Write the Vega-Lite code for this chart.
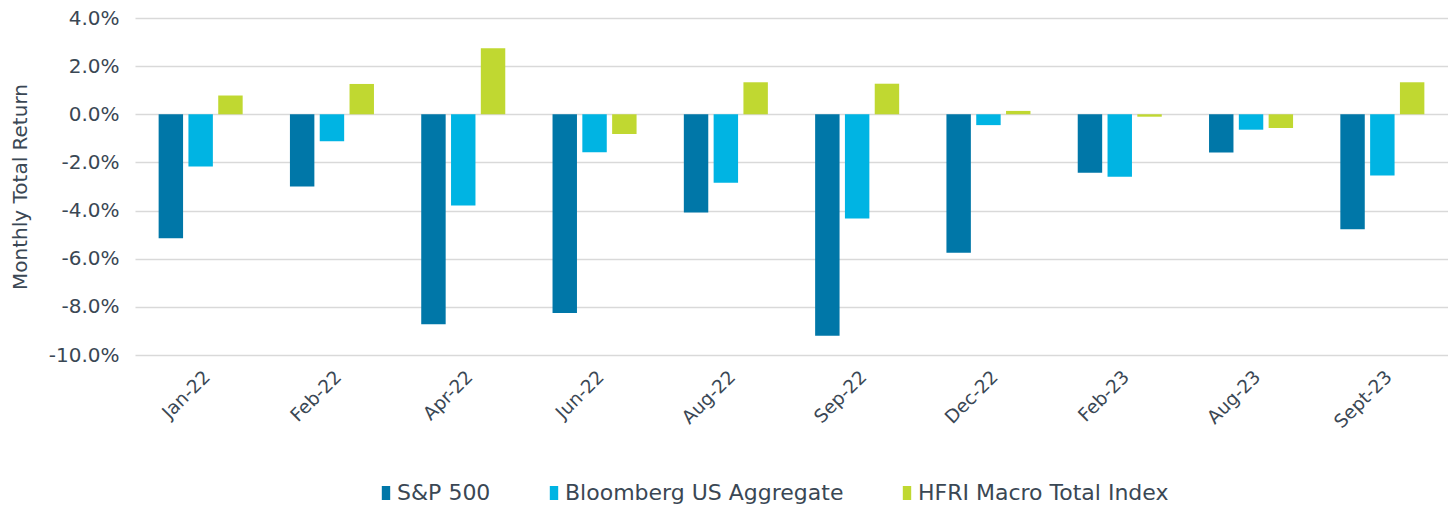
{
  "$schema": "https://vega.github.io/schema/vega-lite/v6.json",
  "autosize": "none",
  "padding": {"left": 135, "top": 18, "right": 0, "bottom": 153},
  "width": 1313,
  "height": 337,
  "background": "white",
  "config": {
    "font": "DejaVu Sans",
    "view": {"stroke": null},
    "axis": {"labelColor": "#3a4754", "titleColor": "#3a4754"}
  },
  "data": {
    "values": [
      {"month": "Jan-22", "series": "S&P 500", "value": -5.15},
      {"month": "Jan-22", "series": "Bloomberg US Aggregate", "value": -2.17},
      {"month": "Jan-22", "series": "HFRI Macro Total Index", "value": 0.78},
      {"month": "Feb-22", "series": "S&P 500", "value": -3.0},
      {"month": "Feb-22", "series": "Bloomberg US Aggregate", "value": -1.12},
      {"month": "Feb-22", "series": "HFRI Macro Total Index", "value": 1.26},
      {"month": "Apr-22", "series": "S&P 500", "value": -8.72},
      {"month": "Apr-22", "series": "Bloomberg US Aggregate", "value": -3.79},
      {"month": "Apr-22", "series": "HFRI Macro Total Index", "value": 2.74},
      {"month": "Jun-22", "series": "S&P 500", "value": -8.25},
      {"month": "Jun-22", "series": "Bloomberg US Aggregate", "value": -1.58},
      {"month": "Jun-22", "series": "HFRI Macro Total Index", "value": -0.82},
      {"month": "Aug-22", "series": "S&P 500", "value": -4.08},
      {"month": "Aug-22", "series": "Bloomberg US Aggregate", "value": -2.84},
      {"month": "Aug-22", "series": "HFRI Macro Total Index", "value": 1.33},
      {"month": "Sep-22", "series": "S&P 500", "value": -9.2},
      {"month": "Sep-22", "series": "Bloomberg US Aggregate", "value": -4.33},
      {"month": "Sep-22", "series": "HFRI Macro Total Index", "value": 1.27},
      {"month": "Dec-22", "series": "S&P 500", "value": -5.75},
      {"month": "Dec-22", "series": "Bloomberg US Aggregate", "value": -0.45},
      {"month": "Dec-22", "series": "HFRI Macro Total Index", "value": 0.14},
      {"month": "Feb-23", "series": "S&P 500", "value": -2.43},
      {"month": "Feb-23", "series": "Bloomberg US Aggregate", "value": -2.6},
      {"month": "Feb-23", "series": "HFRI Macro Total Index", "value": -0.1},
      {"month": "Aug-23", "series": "S&P 500", "value": -1.59},
      {"month": "Aug-23", "series": "Bloomberg US Aggregate", "value": -0.64},
      {"month": "Aug-23", "series": "HFRI Macro Total Index", "value": -0.57},
      {"month": "Sept-23", "series": "S&P 500", "value": -4.78},
      {"month": "Sept-23", "series": "Bloomberg US Aggregate", "value": -2.54},
      {"month": "Sept-23", "series": "HFRI Macro Total Index", "value": 1.33}
    ]
  },
  "mark": {"type": "bar"},
  "encoding": {
    "x": {
      "field": "month",
      "type": "nominal",
      "sort": null,
      "scale": {"paddingInner": 0.36, "paddingOuter": 0.18},
      "axis": {
        "title": null,
        "labelAngle": -45,
        "labelFontSize": 18.5,
        "labelPadding": 12,
        "ticks": false,
        "domain": false
      }
    },
    "xOffset": {
      "field": "series",
      "type": "nominal",
      "sort": ["S&P 500", "Bloomberg US Aggregate", "HFRI Macro Total Index"],
      "scale": {"paddingInner": 0.18}
    },
    "y": {
      "field": "value",
      "type": "quantitative",
      "scale": {"domain": [-10, 4], "nice": false, "zero": false},
      "axis": {
        "title": "Monthly Total Return",
        "titleFontSize": 20,
        "titleFontWeight": "normal",
        "titlePadding": 18,
        "values": [-10, -8, -6, -4, -2, 0, 2, 4],
        "labelExpr": "(datum.value < 0 ? '-' : '') + format(abs(datum.value), '.1f') + '%'",
        "labelFontSize": 20,
        "labelPadding": 16,
        "ticks": false,
        "domain": false,
        "gridColor": "#d9d9d9",
        "gridWidth": 1.6
      }
    },
    "color": {
      "field": "series",
      "type": "nominal",
      "sort": ["S&P 500", "Bloomberg US Aggregate", "HFRI Macro Total Index"],
      "scale": {
        "domain": ["S&P 500", "Bloomberg US Aggregate", "HFRI Macro Total Index"],
        "range": ["#0077a8", "#00b4e3", "#c0d831"]
      },
      "legend": {
        "title": null,
        "orient": "none",
        "direction": "horizontal",
        "legendX": 240,
        "legendY": 464,
        "symbolType": "M-0.6,-1H0.6V1H-0.6Z",
        "symbolSize": 196,
        "symbolStrokeWidth": 0,
        "labelFontSize": 22,
        "labelColor": "#3a4754",
        "labelLimit": 400,
        "labelOffset": 0,
        "columnPadding": 52
      }
    }
  }
}
